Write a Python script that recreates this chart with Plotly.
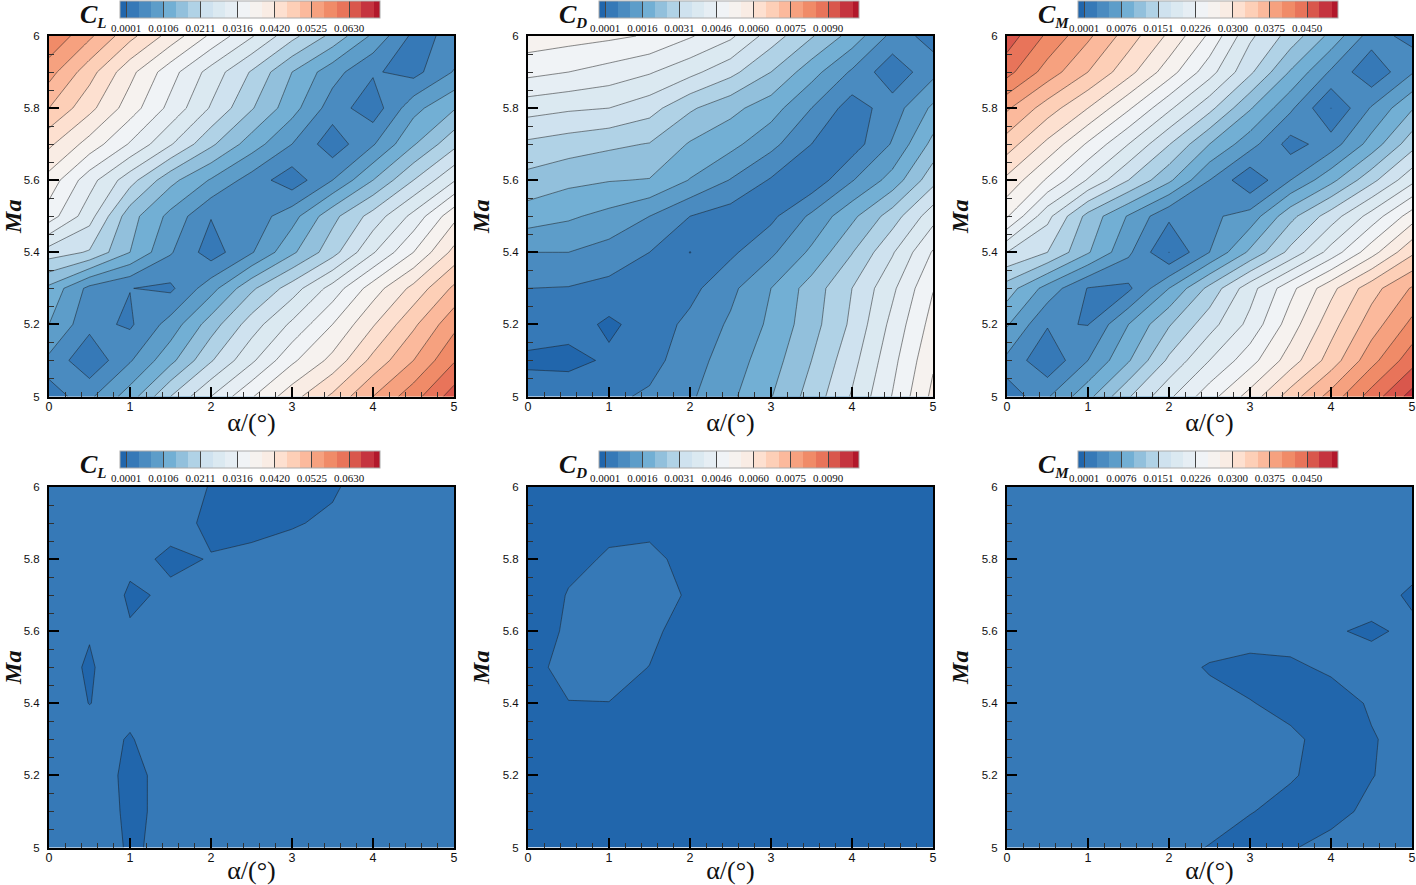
import plotly.graph_objects as go

ALPHA = [0, 0.5, 1, 1.5, 2, 2.5, 3, 3.5, 4, 4.5, 5]
MA = [5.0, 5.1, 5.2, 5.3, 5.4, 5.5, 5.6, 5.7, 5.8, 5.9, 6.0]

# Readings are taken against the chart's contour ladder: 0 = the first level, 1 = the next, ...
CL_TOP = [
    [0.3, 1.8, 3.5, 6.0, 8.0, 9.9, 11.6, 13.2, 15.0, 16.6, 18.5],
    [1.77, 0.2, 1.9, 3.7, 5.9, 7.8, 9.8, 11.3, 13.3, 15.0, 16.9],
    [3.0, 1.3, 0.85, 2.4, 4.5, 6.5, 8.2, 10.0, 11.9, 13.8, 15.7],
    [3.75, 1.7, 1.02, 0.8, 2.6, 4.8, 6.5, 8.4, 10.5, 12.3, 14.2],
    [6.5, 5.9, 4.0, 2.1, 0.5, 1.9, 3.8, 5.6, 7.9, 10.0, 12.3],
    [9.5, 7.4, 4.4, 2.7, 1.05, 1.4, 2.6, 4.7, 6.4, 8.3, 10.7],
    [10.6, 8.4, 6.4, 4.3, 2.9, 1.56, 0.4, 2.0, 4.0, 6.0, 7.9],
    [12.2, 10.6, 8.9, 7.1, 5.2, 3.5, 2.0, 0.4, 1.9, 3.9, 5.7],
    [14.0, 12.3, 10.5, 8.7, 6.9, 5.1, 3.4, 1.5, 0.4, 2.67, 3.9],
    [15.4, 13.4, 11.3, 9.4, 7.6, 5.9, 4.0, 2.4, 1.11, 0.65, 2.07],
    [16.9, 15.2, 13.3, 11.6, 9.8, 8.1, 6.3, 4.7, 2.8, 0.75, 1.2],
]
CD_TOP = [
    [0.86, 0.89, 0.8, 1.15, 1.85, 2.8, 3.95, 5.4, 7.1, 9.05, 11.25],
    [-0.3, -0.4, 0.2, 0.65, 1.55, 2.5, 3.55, 5.0, 6.65, 8.7, 10.85],
    [0.78, 0.5, -0.2, 0.46, 1.25, 2.15, 3.2, 4.6, 6.2, 8.3, 10.4],
    [1.0, 0.95, 0.7, 0.55, 0.7, 1.75, 3.0, 4.45, 6.0, 7.8, 9.95],
    [2.0, 2.0, 1.6, 1.0, -0.02, 0.8, 1.8, 3.2, 4.95, 6.9, 9.1],
    [3.5, 3.15, 2.7, 2.0, 1.0, 0.5, 0.75, 2.2, 3.75, 5.5, 7.6],
    [4.65, 4.25, 4.05, 3.95, 2.95, 1.95, 0.9, 0.3, 1.93, 3.4, 5.65],
    [5.8, 5.5, 5.2, 4.95, 3.9, 3.3, 2.3, 1.0, 0.5, 2.1, 4.3],
    [7.4, 7.15, 7.0, 6.4, 5.15, 4.3, 3.45, 2.0, 0.5, 1.5, 3.2],
    [9.3, 9.0, 8.6, 8.1, 7.3, 6.3, 5.0, 3.4, 1.85, 0.3, 1.7],
    [10.6, 10.4, 10.2, 9.9, 9.1, 8.2, 6.5, 5.1, 3.6, 1.7, 0.46],
]
CM_TOP = [
    [0.24, 1.9, 3.7, 5.9, 7.8, 9.6, 11.4, 13.5, 15.4, 17.45, 19.4],
    [1.75, 0.2, 2.0, 3.9, 6.2, 8.0, 9.6, 11.5, 13.45, 15.65, 17.6],
    [3.1, 1.09, 0.97, 3.0, 4.9, 6.6, 8.3, 10.5, 12.6, 14.5, 16.25],
    [4.5, 2.6, 0.95, 0.8, 3.0, 5.3, 7.6, 9.7, 11.7, 13.6, 15.1],
    [7.0, 6.0, 4.1, 2.2, -0.01, 2.0, 4.2, 6.3, 8.4, 10.6, 12.8],
    [10.1, 7.3, 4.65, 2.9, 1.2, 1.8, 2.4, 4.7, 6.5, 8.4, 10.5],
    [11.75, 9.85, 7.9, 6.0, 4.2, 2.0, 0.2, 2.0, 3.7, 5.7, 7.7],
    [13.5, 11.75, 9.85, 8.0, 6.05, 4.0, 2.4, 0.6, 1.5, 3.4, 5.6],
    [15.15, 13.5, 12.0, 10.15, 8.2, 6.3, 4.1, 2.2, -0.01, 2.1, 3.9],
    [17.35, 15.55, 14.0, 12.35, 10.45, 8.4, 6.2, 3.9, 1.85, 0.2, 1.9],
    [18.55, 16.8, 15.2, 13.5, 11.8, 9.8, 7.2, 5.6, 3.7, 1.5, 0.6],
]
CL_BOTTOM = [
    [0.3, 0.51, -0.1, 0.2, 0.3, 0.3, 0.3, 0.3, 0.3, 0.3, 0.3],
    [0.3, 0.46, -0.15, 0.2, 0.3, 0.3, 0.3, 0.3, 0.3, 0.3, 0.3],
    [0.3, 0.35, -0.15, 0.2, 0.3, 0.3, 0.3, 0.3, 0.3, 0.3, 0.3],
    [0.3, 0.28, -0.05, 0.42, 0.3, 0.3, 0.3, 0.3, 0.3, 0.3, 0.3],
    [0.3, -0.01, 0.21, 0.3, 0.3, 0.3, 0.3, 0.3, 0.3, 0.3, 0.3],
    [0.21, -0.05, 0.31, 0.3, 0.3, 0.3, 0.3, 0.3, 0.3, 0.3, 0.3],
    [0.3, 0.03, 0.03, 0.3, 0.3, 0.3, 0.3, 0.3, 0.3, 0.3, 0.3],
    [0.3, 0.3, -0.05, 0.05, 0.3, 0.3, 0.3, 0.3, 0.3, 0.3, 0.3],
    [0.3, 0.3, 0.08, -0.05, 0.012, 0.085, 0.098, 0.3, 0.3, 0.3, 0.3],
    [0.3, 0.3, 0.3, 0.09, -0.05, -0.1, -0.02, 0.04, 0.3, 0.3, 0.3],
    [0.3, 0.3, 0.3, 0.05, -0.005, -0.1, -0.1, -0.03, 0.12, 0.3, 0.3],
]
CD_BOTTOM = [
    [-0.2] * 11,
    [-0.2] * 11,
    [-0.2] * 11,
    [-0.2] * 11,
    [-0.2, -0.009, -0.007, -0.2, -0.2, -0.2, -0.2, -0.2, -0.2, -0.2, -0.2],
    [-0.1, 0.1, 0.15, -0.007, -0.2, -0.2, -0.2, -0.2, -0.2, -0.2, -0.2],
    [-0.35, 0.1, 0.15, 0.1, -0.2, -0.2, -0.2, -0.2, -0.2, -0.2, -0.2],
    [-0.345, 0.03, 0.15, 0.12, -0.033, -0.2, -0.2, -0.2, -0.2, -0.2, -0.2],
    [-0.2, -0.12, 0.05, 0.05, -0.066, -0.2, -0.2, -0.2, -0.2, -0.2, -0.2],
    [-0.2, -0.2, -0.106, -0.056, -0.2, -0.2, -0.2, -0.2, -0.2, -0.2, -0.2],
    [-0.2] * 11,
]
CM_BOTTOM = [
    [0.2, 0.2, 0.2, 0.2, 0.076, -0.01, -0.1, -0.02, 0.08, 0.2, 0.2],
    [0.2, 0.2, 0.2, 0.2, 0.2, 0.1, 0.01, -0.07, -0.08, 0.06, 0.2],
    [0.2, 0.2, 0.2, 0.2, 0.2, 0.2, 0.15, 0.02, -0.08, -0.01, 0.11],
    [0.2, 0.2, 0.2, 0.2, 0.2, 0.2, 0.15, 0.038, -0.07, -0.02, 0.1],
    [0.2, 0.2, 0.2, 0.2, 0.2, 0.106, 0.01, -0.06, -0.13, 0.0325, 0.2],
    [0.2, 0.2, 0.2, 0.2, 0.128, -0.03, -0.08, -0.05, 0.048, 0.077, 0.2],
    [0.2, 0.2, 0.2, 0.2, 0.2, 0.2, 0.125, 0.124, 0.02, -0.03, 0.04],
    [0.2, 0.2, 0.2, 0.2, 0.2, 0.2, 0.2, 0.2, 0.2, 0.08, -0.03],
    [0.2, 0.2, 0.2, 0.2, 0.2, 0.2, 0.2, 0.2, 0.2, 0.2, 0.077],
    [0.2] * 11,
    [0.2] * 11,
]

CL_TICKS = ["0.0001", "0.0106", "0.0211", "0.0316", "0.0420", "0.0525", "0.0630"]
CD_TICKS = ["0.0001", "0.0016", "0.0031", "0.0046", "0.0060", "0.0075", "0.0090"]
CM_TICKS = ["0.0001", "0.0076", "0.0151", "0.0226", "0.0300", "0.0375", "0.0450"]

BAND_COLORS = [
    "#2166ac", "#3679b7", "#4a8bc0", "#5d9dc9", "#72afd4", "#92c0dc", "#b0d2e6", "#cfe2ef",
    "#dbe9f1", "#e6eef4", "#f0f3f6", "#f6f2ef", "#f9ece4", "#fde0d0", "#fdcfb7", "#fbb99c",
    "#f6a17f", "#f08b68", "#e8745a", "#d9574c", "#c5343f", "#b2182b",
]

W, H = 1416, 885
PANEL_X = [(49, 454), (528, 933), (1007, 1412)]
PANEL_Y = [(36, 396.5), (487, 847.5)]
BAR_X = [120, 599, 1078]
BAR_Y = [1, 451]
SERIF = "Liberation Serif"
SANS = "Liberation Sans"

PANELS = [
    ("L", CL_TOP, CL_TICKS, 0, 0),
    ("D", CD_TOP, CD_TICKS, 1, 0),
    ("M", CM_TOP, CM_TICKS, 2, 0),
    ("L", CL_BOTTOM, CL_TICKS, 0, 1),
    ("D", CD_BOTTOM, CD_TICKS, 1, 1),
    ("M", CM_BOTTOM, CM_TICKS, 2, 1),
]

N_LEVELS = len(BAND_COLORS) - 1
SCALE = [[i / (len(BAND_COLORS) - 1), c] for i, c in enumerate(BAND_COLORS)]

fig = go.Figure()
annotations = []
for idx, (sub, read, ticks, col, row) in enumerate(PANELS, start=1):
    first = float(ticks[0])
    step = (float(ticks[-1]) - first) / 18
    z = [[first + r * step for r in rr] for rr in read]
    start, end = first, first + (N_LEVELS - 1) * step
    xa, ya = f"x{idx}", f"y{idx}"
    fig.add_trace(go.Contour(
        x=ALPHA, y=MA, z=z, xaxis=xa, yaxis=ya,
        autocontour=False, zauto=False,
        zmin=start - step / 2, zmax=end + step / 2,
        contours=dict(start=start, end=end, size=step, coloring="fill", showlines=False),
        colorscale=SCALE, line=dict(width=0, smoothing=0),
        hoverinfo="skip",
        colorbar=dict(
            orientation="h", xanchor="left", yanchor="top",
            x=BAR_X[col] / W, y=1 - BAR_Y[row] / H,
            len=260, lenmode="pixels", thickness=17, thicknessmode="pixels",
            xpad=0, ypad=0, outlinewidth=1, outlinecolor="#aaaaaa", borderwidth=0,
            tickmode="array", tickvals=[first + 3 * i * step for i in range(7)], ticktext=ticks,
            ticks="inside", ticklen=17, tickwidth=1, tickcolor="#444444",
            tickfont=dict(family=SERIF, size=11, color="#111111"),
        ),
    ))
    fig.add_trace(go.Contour(
        x=ALPHA, y=MA, z=z, xaxis=xa, yaxis=ya, showscale=False,
        autocontour=False,
        contours=dict(start=start, end=end, size=step, coloring="none", showlines=True),
        line=dict(color="rgba(25,25,25,0.72)", width=0.7, smoothing=0),
        hoverinfo="skip",
    ))
    px0, px1 = PANEL_X[col]
    py0, py1 = PANEL_Y[row]
    fig.update_layout(**{
        f"xaxis{idx}": dict(
            domain=[px0 / W, px1 / W], anchor=ya, range=[0, 5], dtick=1, tick0=0,
            ticks="inside", ticklen=10, tickwidth=2, tickcolor="black",
            showline=True, linecolor="black", linewidth=2, mirror=True,
            showgrid=False, zeroline=False, ticklabelstandoff=-3,
            tickfont=dict(family=SANS, size=12.5, color="#111111"),
            minor=dict(ticks="inside", ticklen=5, tickwidth=1, tickcolor="#333333", dtick=0.2, tick0=0, showgrid=False),
            title=dict(text="α/(°)", font=dict(family=SERIF, size=26, color="#111111"), standoff=0),
        ),
        f"yaxis{idx}": dict(
            domain=[1 - py1 / H, 1 - py0 / H], anchor=xa, range=[5, 6], dtick=0.2, tick0=5,
            ticks="inside", ticklen=10, tickwidth=2, tickcolor="black",
            showline=True, linecolor="black", linewidth=2, mirror=True,
            showgrid=False, zeroline=False, ticklabelstandoff=5,
            tickfont=dict(family=SANS, size=11.5, color="#111111"),
            minor=dict(ticks="inside", ticklen=5, tickwidth=1, tickcolor="#333333", dtick=0.05, tick0=5, showgrid=False),
            title=dict(text="Ma", font=dict(family=SERIF, size=24, color="#111111", weight="bold", style="italic"), standoff=6),
        ),
    })
    annotations.append(dict(
        xref="paper", yref="paper", xanchor="left", yanchor="top",
        x=(BAR_X[col] - 42) / W, y=1 - (BAR_Y[row] - 3) / H, showarrow=False,
        text=f'<b><i>C<sub><span style="font-size:15px">{sub}</span></sub></i></b>',
        font=dict(family=SERIF, size=26, color="#111111"),
    ))

fig.update_layout(
    width=W, height=H, margin=dict(l=0, r=0, t=0, b=0, autoexpand=False),
    paper_bgcolor="white", plot_bgcolor="white", showlegend=False,
    annotations=annotations,
)
fig.write_html(
    "out.html",
    config={"displayModeBar": False},
    post_script="document.body.style.margin='0';document.body.style.overflow='hidden';",
)
